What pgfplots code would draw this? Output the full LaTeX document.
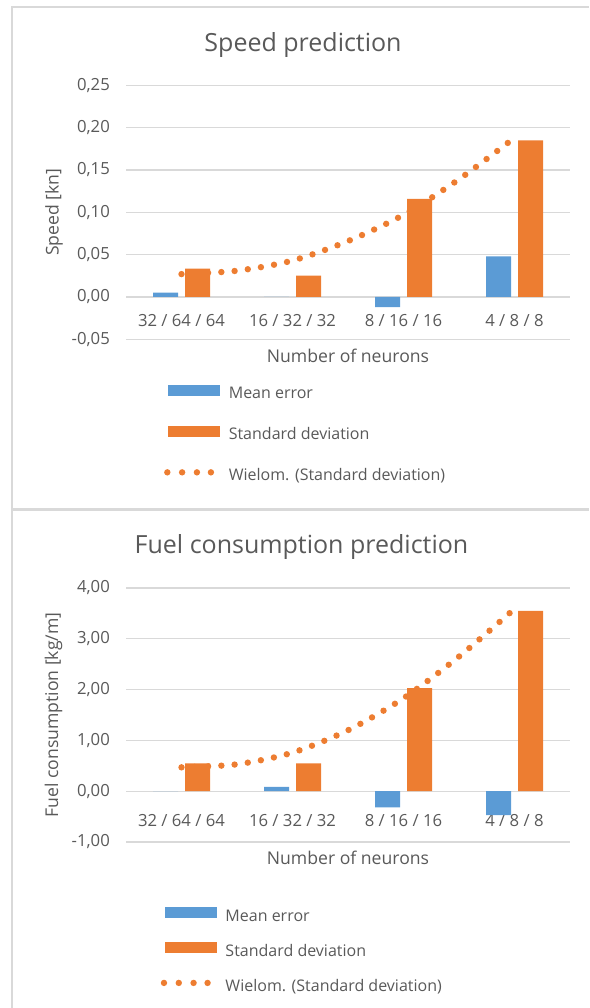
\documentclass[border=0pt]{standalone}
\usepackage{fontspec}
\setmainfont{Open Sans}
\setsansfont{Open Sans}
\usepackage{pgfplots}
\pgfplotsset{compat=1.18}

\definecolor{meanblue}{HTML}{5B9BD5}
\definecolor{stdorange}{HTML}{ED7D31}
\definecolor{gridgray}{HTML}{D9D9D9}
\definecolor{txtgray}{HTML}{595959}
\newcommand{\fs}[1]{\fontsize{#1}{#1}\selectfont}

\pgfplotsset{
  excelchart/.style={
    scale only axis, width=444pt, height=254pt,
    xmin=-0.5, xmax=3.5, xtick={0,1,2,3},
    xticklabels={32 / 64 / 64, 16 / 32 / 32, 8 / 16 / 16, 4 / 8 / 8},
    axis line style={draw=none}, major tick length=0pt,
    ymajorgrids, major grid style={gridgray, line width=1.3pt},
    tick label style={font=\fs{16.7}, text=txtgray},
    yticklabel style={anchor=east, inner sep=0pt, xshift=-16pt},
    label style={font=\fs{17.6}, text=txtgray},
    xlabel={Number of neurons},
    /pgf/number format/fixed, /pgf/number format/fixed zerofill,
    /pgf/number format/precision=2, /pgf/number format/use comma,
    /pgf/number format/1000 sep={}, /pgf/number format/assume math mode=true,
    legend cell align=left,
    legend style={draw=none, fill=none, inner sep=0pt, outer sep=0pt,
      column sep=8.5pt, anchor=north west, font=\fs{16}, text=txtgray,
      nodes={inner sep=0pt, text height=12pt, text depth=4pt}},
  },
  meanbar/.style={ybar, bar width=25pt, bar shift=-16pt, fill=meanblue, draw=none,
    legend image code/.code={\fill[meanblue, draw=none] (0pt,-1pt) rectangle (52pt,10pt);}},
  stdbar/.style={ybar, bar width=25pt, bar shift=16pt, fill=stdorange, draw=none,
    legend image code/.code={\fill[stdorange, draw=none] (0pt,-1pt) rectangle (52pt,10pt);}},
  trend/.style={smooth, stdorange, line width=6.4pt, line cap=round,
    dash pattern=on 0pt off 13.3pt,
    legend image code/.code={%
      \foreach \x in {-1,13.8,28.6,42.6}{\fill[stdorange, draw=none, solid, overlay] (\x pt,4.3pt) circle (3.2pt);}
      \path[draw=none, fill=none] (0pt,-1pt) rectangle (52pt,10pt);}},
}

\begin{document}
\begin{tikzpicture}
\useasboundingbox (0pt,0pt) rectangle (589pt,-1008pt);
% chart frames
\draw[gridgray, line width=2pt] (12pt,-1008pt) -- (12pt,-7pt) -- (589pt,-7pt);
\draw[gridgray, line width=3pt] (12pt,-509.3pt) -- (589pt,-509.3pt);

% titles
\node[font=\fs{25}, text=txtgray, anchor=base] at (303pt,-51.7pt) {Speed prediction};
\node[font=\fs{25}, text=txtgray, anchor=base] at (301.5pt,-553.3pt) {Fuel consumption prediction};

% speed
\begin{axis}[excelchart,
  at={(126pt,-339.3pt)}, anchor=south west,
  ymin=-0.05, ymax=0.25, ytick={-0.05,0,0.05,0.1,0.15,0.2,0.25},
  ylabel={Speed [kn]},
  ylabel style={at={(axis description cs:-0.162,0.5)}, anchor=center},
  xlabel style={at={(axis description cs:0.5,0)}, anchor=base, yshift=-23.4pt},
  xticklabel style={anchor=base, yshift=12.6pt},
  legend style={at={(axis description cs:0.0953,-0.1785)}, row sep=23pt},
]
\addplot[meanbar] coordinates {(0,0.005) (1,0) (2,-0.012) (3,0.048)};
\addplot[stdbar] coordinates {(0,0.0335) (1,0.0252) (2,0.116) (3,0.185)};
\addplot[trend] coordinates {(0,0.027) (0.5,0.031) (1,0.043) (1.5,0.066) (2,0.097) (2.5,0.139) (3,0.188)};
\legend{Mean error, Standard deviation, Wielom. (Standard deviation)}
\end{axis}

% fuel
\begin{axis}[excelchart,
  at={(126pt,-842pt)}, anchor=south west,
  ymin=-1, ymax=4, ytick={-1,0,1,2,3,4},
  ylabel={Fuel consumption [kg/m]},
  ylabel style={at={(axis description cs:-0.163,0.5)}, anchor=center},
  xlabel style={at={(axis description cs:0.5,0)}, anchor=base, yshift=-22.6pt},
  xticklabel style={anchor=base, yshift=15.6pt},
  legend style={at={(axis description cs:0.0878,-0.2567)}, row sep=17pt},
]
\addplot[meanbar] coordinates {(0,0) (1,0.086) (2,-0.32) (3,-0.47)};
\addplot[stdbar] coordinates {(0,0.546) (1,0.546) (2,2.03) (3,3.55)};
\addplot[trend] coordinates {(0,0.47) (0.5,0.53) (1,0.76) (1.5,1.2) (2,1.83) (2.5,2.65) (3,3.59)};
\legend{Mean error, Standard deviation, Wielom. (Standard deviation)}
\end{axis}
\end{tikzpicture}
\end{document}
